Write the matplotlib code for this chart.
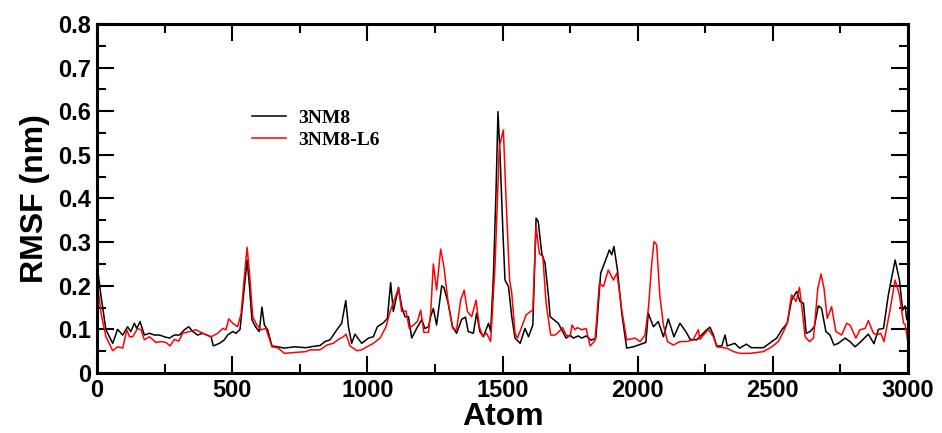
import matplotlib.pyplot as plt
from matplotlib.ticker import MultipleLocator

# RMSF per atom
atom_3nm8 = [0, 15, 33, 58, 76, 95, 113, 125, 138, 147, 159, 175, 194, 212, 231, 249, 268, 286, 305, 323,
             339, 354, 372, 391, 422, 430, 453, 471, 483, 502, 514, 529, 539, 549, 555, 564, 573, 586, 600, 610,
             619, 631, 647, 668, 693, 730, 773, 800, 825, 843, 862, 874, 887, 905, 920, 930, 942, 954, 979, 1004,
             1022, 1037, 1059, 1074, 1086, 1096, 1115, 1127, 1139, 1152, 1164, 1182, 1201, 1213, 1226, 1234, 1244, 1256, 1275, 1283,
             1299, 1315, 1330, 1349, 1363, 1373, 1392, 1404, 1416, 1429, 1448, 1456, 1466, 1476, 1483, 1491, 1501, 1509, 1522, 1534,
             1546, 1565, 1583, 1596, 1612, 1624, 1632, 1645, 1657, 1670, 1676, 1690, 1706, 1722, 1735, 1750, 1762, 1780, 1793, 1809,
             1828, 1845, 1863, 1879, 1895, 1904, 1912, 1925, 1941, 1959, 1984, 2020, 2030, 2039, 2058, 2076, 2095, 2113, 2134, 2156,
             2178, 2194, 2218, 2236, 2255, 2267, 2280, 2292, 2311, 2323, 2331, 2359, 2377, 2402, 2420, 2465, 2496, 2514, 2533, 2553,
             2569, 2588, 2600, 2613, 2623, 2638, 2653, 2668, 2680, 2696, 2711, 2726, 2742, 2767, 2785, 2804, 2822, 2853, 2874, 2890,
             2909, 2927, 2952, 2968, 2980, 2989, 2995, 3000]
rmsf_3nm8 = [0.248, 0.175, 0.099, 0.068, 0.100, 0.087, 0.106, 0.095, 0.114, 0.102, 0.118, 0.087, 0.091, 0.087, 0.087, 0.083, 0.080, 0.087, 0.087, 0.099,
             0.106, 0.095, 0.087, 0.091, 0.083, 0.062, 0.068, 0.076, 0.087, 0.095, 0.091, 0.100, 0.160, 0.221, 0.259, 0.198, 0.122, 0.106, 0.095, 0.151,
             0.110, 0.099, 0.062, 0.060, 0.057, 0.060, 0.058, 0.061, 0.063, 0.072, 0.076, 0.087, 0.099, 0.114, 0.166, 0.106, 0.068, 0.089, 0.068, 0.080,
             0.083, 0.106, 0.115, 0.125, 0.207, 0.141, 0.196, 0.152, 0.129, 0.129, 0.080, 0.102, 0.122, 0.102, 0.106, 0.129, 0.148, 0.110, 0.200, 0.196,
             0.160, 0.106, 0.091, 0.123, 0.128, 0.095, 0.091, 0.137, 0.095, 0.083, 0.114, 0.095, 0.221, 0.420, 0.599, 0.496, 0.328, 0.213, 0.198, 0.129,
             0.080, 0.068, 0.102, 0.083, 0.110, 0.355, 0.347, 0.274, 0.252, 0.175, 0.129, 0.122, 0.114, 0.095, 0.080, 0.087, 0.080, 0.085, 0.080, 0.085,
             0.075, 0.080, 0.229, 0.255, 0.282, 0.271, 0.290, 0.236, 0.137, 0.057, 0.060, 0.068, 0.070, 0.137, 0.106, 0.118, 0.083, 0.124, 0.083, 0.114,
             0.095, 0.077, 0.076, 0.087, 0.099, 0.105, 0.087, 0.062, 0.062, 0.087, 0.062, 0.068, 0.057, 0.066, 0.058, 0.058, 0.072, 0.080, 0.099, 0.114,
             0.167, 0.187, 0.164, 0.160, 0.091, 0.095, 0.106, 0.154, 0.148, 0.095, 0.087, 0.064, 0.068, 0.080, 0.072, 0.060, 0.070, 0.089, 0.067, 0.100,
             0.102, 0.179, 0.259, 0.213, 0.144, 0.154, 0.122, 0.135]

atom_l6 = [0, 15, 33, 58, 76, 95, 110, 120, 132, 150, 163, 175, 194, 218, 237, 255, 270, 286, 302, 317,
           342, 366, 391, 422, 446, 465, 477, 487, 502, 520, 533, 545, 555, 564, 576, 591, 607, 625, 647, 668,
           693, 730, 773, 788, 825, 850, 874, 893, 911, 921, 936, 961, 979, 998, 1022, 1047, 1069, 1084, 1099, 1115,
           1127, 1143, 1155, 1170, 1185, 1197, 1209, 1226, 1234, 1244, 1256, 1271, 1283, 1299, 1315, 1330, 1345, 1358, 1370, 1386,
           1402, 1414, 1426, 1441, 1456, 1472, 1488, 1503, 1513, 1526, 1534, 1546, 1555, 1571, 1587, 1612, 1624, 1636, 1649, 1661,
           1670, 1678, 1694, 1706, 1722, 1735, 1750, 1757, 1768, 1777, 1793, 1809, 1824, 1842, 1858, 1873, 1891, 1910, 1923, 1941,
           1959, 1990, 2009, 2027, 2040, 2052, 2060, 2070, 2082, 2095, 2110, 2132, 2156, 2181, 2205, 2224, 2230, 2249, 2261, 2280,
           2292, 2329, 2354, 2378, 2415, 2465, 2496, 2520, 2539, 2553, 2569, 2586, 2598, 2607, 2619, 2635, 2650, 2666, 2678, 2689,
           2701, 2717, 2733, 2754, 2773, 2785, 2807, 2822, 2841, 2853, 2872, 2884, 2899, 2911, 2931, 2952, 2968, 2983, 2989, 2998]
rmsf_l6 = [0.210, 0.137, 0.083, 0.051, 0.060, 0.057, 0.099, 0.083, 0.083, 0.102, 0.099, 0.076, 0.083, 0.070, 0.072, 0.070, 0.062, 0.077, 0.073, 0.091,
           0.095, 0.099, 0.091, 0.083, 0.091, 0.102, 0.099, 0.124, 0.114, 0.106, 0.137, 0.221, 0.288, 0.229, 0.129, 0.110, 0.099, 0.102, 0.060, 0.058,
           0.045, 0.047, 0.049, 0.053, 0.053, 0.064, 0.068, 0.077, 0.083, 0.089, 0.062, 0.051, 0.053, 0.060, 0.068, 0.080, 0.106, 0.141, 0.167, 0.194,
           0.141, 0.142, 0.102, 0.110, 0.118, 0.144, 0.093, 0.093, 0.137, 0.250, 0.190, 0.284, 0.244, 0.160, 0.102, 0.099, 0.167, 0.190, 0.141, 0.129,
           0.167, 0.106, 0.085, 0.091, 0.072, 0.244, 0.519, 0.557, 0.397, 0.213, 0.183, 0.091, 0.080, 0.106, 0.133, 0.145, 0.336, 0.274, 0.267, 0.160,
           0.122, 0.087, 0.087, 0.093, 0.104, 0.087, 0.083, 0.110, 0.099, 0.104, 0.099, 0.102, 0.062, 0.074, 0.206, 0.198, 0.236, 0.213, 0.229, 0.144,
           0.076, 0.080, 0.072, 0.087, 0.152, 0.252, 0.301, 0.294, 0.175, 0.110, 0.072, 0.064, 0.072, 0.072, 0.076, 0.099, 0.077, 0.091, 0.100, 0.083,
           0.060, 0.057, 0.049, 0.045, 0.045, 0.049, 0.060, 0.072, 0.095, 0.114, 0.179, 0.164, 0.196, 0.152, 0.083, 0.072, 0.080, 0.194, 0.227, 0.194,
           0.125, 0.152, 0.095, 0.087, 0.114, 0.110, 0.080, 0.099, 0.102, 0.120, 0.091, 0.087, 0.091, 0.072, 0.137, 0.213, 0.179, 0.114, 0.112, 0.076]

labels = ['3NM8', '3NM8-L6']

fig = plt.figure(figsize=(9.42, 4.33), dpi=100)
ax = fig.add_axes([0.103, 0.1386, 0.861, 0.806])

ax.plot(atom_3nm8, rmsf_3nm8, color='black', lw=1.1, label=labels[0])
ax.plot(atom_l6, rmsf_l6, color='red', lw=1.1, label=labels[1])

ax.set_xlim(0, 3000)
ax.set_ylim(0, 0.8)
ax.xaxis.set_major_locator(MultipleLocator(500))
ax.xaxis.set_minor_locator(MultipleLocator(250))
ax.yaxis.set_major_locator(MultipleLocator(0.1))
ax.yaxis.set_minor_locator(MultipleLocator(0.05))
ax.set_yticks([0, 0.1, 0.2, 0.3, 0.4, 0.5, 0.6, 0.7, 0.8], ['0', '0.1', '0.2', '0.3', '0.4', '0.5', '0.6', '0.7', '0.8'])

ax.tick_params(which='both', direction='in', top=True, right=True, width=1.5)
ax.tick_params(which='major', length=12, pad=4)
ax.tick_params(which='minor', length=6.5)
for lab in ax.get_xticklabels() + ax.get_yticklabels():
    lab.set_fontfamily('Liberation Sans')
    lab.set_fontweight('bold')
    lab.set_fontsize(17)
for sp in ax.spines.values():
    sp.set_linewidth(2.2)

ax.set_xlabel('Atom', fontfamily='Liberation Sans', fontweight='bold', fontsize=23, labelpad=0.5)
ax.set_ylabel('RMSF (nm)', fontfamily='Liberation Sans', fontweight='bold', fontsize=23, labelpad=6)

ax.legend(loc='upper left', bbox_to_anchor=(0.268, 0.748), bbox_transform=fig.transFigure,
          frameon=False, borderpad=0, borderaxespad=0, handlelength=1.7, handletextpad=0.65,
          labelspacing=0.22, prop={'family': 'Liberation Serif', 'weight': 'bold', 'size': 14})

fig.savefig('out.png', dpi=100)
